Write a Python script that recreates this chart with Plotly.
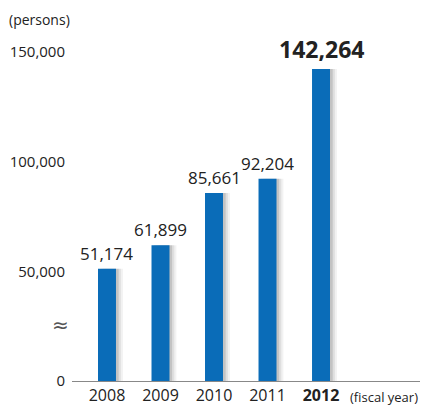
import plotly.graph_objects as go

years = ["2008", "2009", "2010", "2011", "2012"]
tick_text = ["2008", "2009", "2010", "2011", "<b>2012</b>"]
values = [51174, 61899, 85661, 92204, 142264]
y_ticks = [0, 50000, 100000, 150000]
y_tick_text = ["0", "50,000", "100,000", "150,000"]

FONT = "Open Sans"
BLUE = "#0a6cb8"
idx = list(range(len(years)))
bw = 0.336

fig = go.Figure()
# soft shadow layers
for off, col in [(0.13, "rgba(0,0,0,0.05)"), (0.09, "rgba(0,0,0,0.08)"), (0.05, "rgba(0,0,0,0.12)")]:
    fig.add_trace(go.Bar(x=idx, y=values, width=bw, offset=-bw / 2 + off,
                         marker=dict(color=col, line=dict(width=0)),
                         hoverinfo="skip", showlegend=False))
fig.add_trace(go.Bar(x=idx, y=values, width=bw, offset=-bw / 2,
                     marker=dict(color=BLUE, line=dict(width=0)),
                     showlegend=False))

for i, v in zip(idx, values):
    last = i == idx[-1]
    fig.add_annotation(x=i, y=v, xref="x", yref="y",
                       text=(f"<b>{v:,}</b>" if last else f"{v:,}"),
                       showarrow=False, yanchor="bottom", xanchor="center", yshift=2,
                       font=dict(family=FONT, size=(23 if last else 17), color="#222"))

fig.update_layout(
    width=425, height=405,
    margin=dict(l=72, r=5, t=52, b=24, autoexpand=False),
    paper_bgcolor="white", plot_bgcolor="white",
    barmode="overlay",
    font=dict(family=FONT, size=15, color="#222"),
    xaxis=dict(range=[-0.654, 5.85], tickmode="array", tickvals=idx, ticktext=tick_text,
               showgrid=False, zeroline=False, showline=True, linecolor="#888", linewidth=1,
               ticks="", tickfont=dict(size=16, color="#222"), automargin=False),
    yaxis=dict(range=[0, 150000], tickmode="array", tickvals=y_ticks, ticktext=y_tick_text,
               showgrid=False, zeroline=False, showline=False, ticks="",
               tickfont=dict(size=15, color="#222"), ticklabelstandoff=6, automargin=False),
)
fig.add_annotation(text="(persons)", xref="paper", yref="paper", x=-72 / 348, y=1 + 32 / 329,
                   xanchor="left", yanchor="middle", showarrow=False,
                   font=dict(family=FONT, size=14, color="#222"), xshift=7)
fig.add_annotation(text="≈", xref="paper", yref="y", x=-12 / 348, y=25500,
                   xanchor="center", yanchor="middle", showarrow=False,
                   font=dict(family="DejaVu Sans", size=20, color="#555"))
fig.add_annotation(text="(fiscal year)", xref="paper", yref="paper", x=1, y=-16 / 329,
                   xanchor="right", yanchor="middle", showarrow=False,
                   font=dict(family=FONT, size=13, color="#222"))

fig.write_html("out.html", config={"displayModeBar": False},
               post_script="document.body.style.margin='0';")
